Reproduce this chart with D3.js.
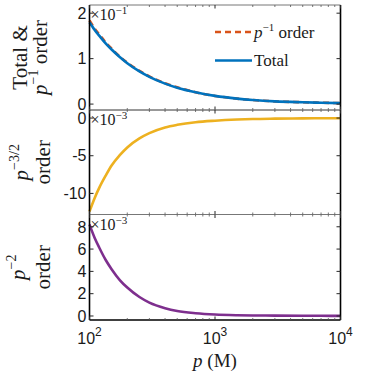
<!DOCTYPE html>
<html>
<head>
<meta charset="utf-8">
<script src="https://cdn.jsdelivr.net/npm/d3@7"></script>
<style>
  body { margin: 0; background: #fff; }
  svg { display: block; }
  .tick-lab { font-family: "Liberation Sans", Arial, sans-serif; font-size: 16px; fill: #1a1a1a; }
  .tex { font-family: "Liberation Serif", "DejaVu Serif", serif; fill: #1a1a1a; }
</style>
</head>
<body>
<svg id="chart" width="366" height="372"></svg>
<script>
// momentum grid (M)
const pGrid = [100, 110, 120, 135, 150, 175, 200, 250, 300, 400, 500, 700, 1000, 1500, 2000, 3000, 5000, 7000, 10000];

// panel 1 (x10^-1)
const totalVals = [1.80, 1.63, 1.50, 1.33, 1.20, 1.03, 0.90, 0.72, 0.60, 0.45, 0.36, 0.26, 0.18, 0.12, 0.09, 0.06, 0.04, 0.03, 0.02];
const pInvVals  = [1.84, 1.66, 1.53, 1.35, 1.22, 1.04, 0.91, 0.73, 0.61, 0.46, 0.37, 0.26, 0.18, 0.12, 0.09, 0.06, 0.04, 0.03, 0.02];
// panel 2 (x10^-3)
const p32Vals = [-12.4, -10.6, -9.2, -7.6, -6.3, -4.9, -3.9, -2.7, -2.0, -1.25, -0.9, -0.55, -0.35, -0.2, -0.13, -0.08, -0.04, -0.03, -0.02];
// panel 3 (x10^-3)
const p2Vals = [8.2, 7.0, 6.1, 5.0, 4.2, 3.2, 2.55, 1.7, 1.2, 0.7, 0.45, 0.25, 0.13, 0.07, 0.05, 0.03, 0.02, 0.015, 0.01];

const yTicks1 = [0, 1, 2];
const yTicks2 = [-10, -5, 0];
const yTicks3 = [0, 2, 4, 6, 8];
const xMajor = [100, 1000, 10000];

const C = { blue: "#0072BD", orange: "#D95319", yellow: "#EDB120", purple: "#7E2F8E" };

const svg = d3.select("#chart");
const L = 89.5, R = 340.5;
const x = d3.scaleLog().domain([100, 10000]).range([L, R]);

const panels = [
  { top: 5, bot: 110, dom: [-0.13, 2.18], ticks: yTicks1, exp: "-1",
    series: [{ v: pInvVals, c: C.orange, dash: "6,4" }, { v: totalVals, c: C.blue }],
    label: [["Total &"], ["p", "-1", " order"]], lx: [27, 47] },
  { top: 110, bot: 214.5, dom: [-12.8, 1.07], ticks: yTicks2, exp: "-3",
    series: [{ v: p32Vals, c: C.yellow }],
    label: [["p", "-3/2", ""], ["order"]], lx: [28, 50] },
  { top: 214.5, bot: 320, dom: [-0.36, 9.1], ticks: yTicks3, exp: "-3",
    series: [{ v: p2Vals, c: C.purple }],
    label: [["p", "-2", ""], ["order"]], lx: [25, 50] }
];

const minorX = [];
for (let dec = 100; dec < 10000; dec *= 10)
  for (let k = 2; k <= 9; k++) minorX.push(dec * k);

panels.forEach((pn, idx) => {
  const y = d3.scaleLinear().domain(pn.dom).range([pn.bot, pn.top]);
  const g = svg.append("g");

  // curves
  pn.series.forEach(s => {
    const line = d3.line().x((d, i) => x(pGrid[i])).y(d => y(d)).curve(d3.curveMonotoneX);
    g.append("path").datum(s.v).attr("d", line)
      .attr("fill", "none").attr("stroke", s.c).attr("stroke-width", 2.6)
      .attr("stroke-dasharray", s.dash || null);
  });

  // box
  g.append("line").attr("x1", L).attr("x2", R).attr("y1", pn.top).attr("y2", pn.top)
    .attr("stroke", "#777").attr("stroke-width", 1);
  g.append("line").attr("x1", L).attr("x2", R).attr("y1", pn.bot).attr("y2", pn.bot)
    .attr("stroke", idx === 2 ? "#000" : "#777").attr("stroke-width", idx === 2 ? 1.6 : 1);
  [L, R].forEach(xx => g.append("line").attr("x1", xx).attr("x2", xx)
    .attr("y1", pn.top).attr("y2", pn.bot).attr("stroke", "#000").attr("stroke-width", 1.6));

  // x ticks top & bottom
  xMajor.concat(minorX).forEach(v => {
    const major = xMajor.includes(v);
    const len = major ? 3.5 : 2;
    [[pn.bot, -1], [pn.top, 1]].forEach(([y0, s]) => {
      g.append("line").attr("x1", x(v)).attr("x2", x(v)).attr("y1", y0).attr("y2", y0 + s * len)
        .attr("stroke", major ? "#262626" : "#555").attr("stroke-width", major ? 1 : 0.8);
    });
  });

  // y ticks + labels
  pn.ticks.forEach(t => {
    g.append("line").attr("x1", L).attr("x2", L + 4).attr("y1", y(t)).attr("y2", y(t))
      .attr("stroke", "#262626");
    g.append("line").attr("x1", R).attr("x2", R - 4).attr("y1", y(t)).attr("y2", y(t))
      .attr("stroke", "#262626");
    g.append("text").attr("class", "tick-lab").attr("x", L - 3).attr("y", y(t))
      .attr("dy", "0.36em").attr("text-anchor", "end").text(t);
  });

  // exponent
  const ex = g.append("text").attr("class", "tex").attr("x", L + 1).attr("y", pn.top + 15)
    .attr("font-size", 16);
  ex.append("tspan").text("\u00d710");
  ex.append("tspan").attr("dy", -6).attr("font-size", 11).text("\u2212" + pn.exp.slice(1));

  // y label (two lines, rotated)
  const cy = (pn.top + pn.bot) / 2;
  pn.label.forEach((parts, li) => {
    const t = g.append("text").attr("class", "tex").attr("font-size", 21)
      .attr("text-anchor", "middle")
      .attr("transform", `translate(${pn.lx[li]},${cy}) rotate(-90)`);
    if (parts.length === 1) { t.text(parts[0]); return; }
    t.append("tspan").attr("font-style", "italic").text(parts[0]);
    t.append("tspan").attr("dy", -9).attr("font-size", 14).text(parts[1].replace("-", "\u2212"));
    if (parts[2]) t.append("tspan").attr("dy", 9).text(parts[2]);
  });
});

// legend in top panel
const lg = svg.append("g");
const legItems = [
  { y: 32, c: C.orange, dash: "6,4", parts: ["p", "\u22121", " order"] },
  { y: 60.5, c: C.blue, parts: ["Total"] }
];
legItems.forEach(it => {
  lg.append("line").attr("x1", 215).attr("x2", 252).attr("y1", it.y).attr("y2", it.y)
    .attr("stroke", it.c).attr("stroke-width", 2.6).attr("stroke-dasharray", it.dash || null);
  const t = lg.append("text").attr("class", "tex").attr("font-size", 17)
    .attr("x", 254).attr("y", it.y).attr("dy", "0.33em");
  if (it.parts.length === 1) { t.text(it.parts[0]); return; }
  t.append("tspan").attr("font-style", "italic").text(it.parts[0]);
  t.append("tspan").attr("dy", -7).attr("font-size", 11).text(it.parts[1]);
  t.append("tspan").attr("dy", 7).text(it.parts[2]);
});

// x tick labels
xMajor.forEach(v => {
  const t = svg.append("text").attr("class", "tick-lab").attr("font-size", 17)
    .attr("x", x(v)).attr("y", 344).attr("text-anchor", "middle");
  t.append("tspan").text("10");
  t.append("tspan").attr("dy", -8).attr("font-size", 12).text(Math.log10(v));
});

// x label
const xl = svg.append("text").attr("class", "tex").attr("font-size", 19)
  .attr("x", x(1000)).attr("y", 367).attr("text-anchor", "middle");
xl.append("tspan").attr("font-style", "italic").text("p");
xl.append("tspan").text(" (M)");
</script>
</body>
</html>
